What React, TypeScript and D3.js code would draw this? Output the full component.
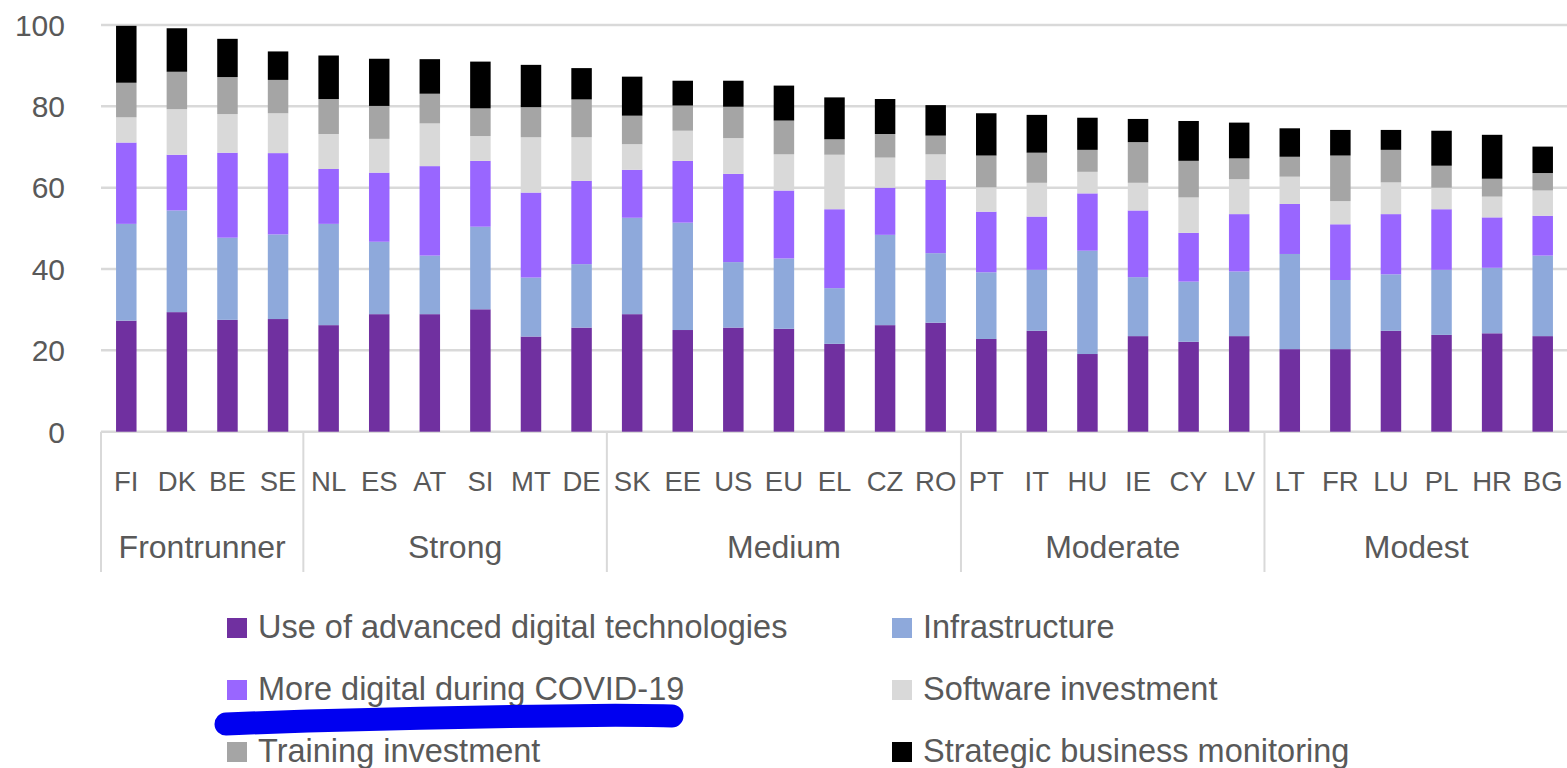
import React from "react";
import * as d3 from "d3";

const countries = ["FI","DK","BE","SE","NL","ES","AT","SI","MT","DE","SK","EE","US","EU","EL","CZ","RO","PT","IT","HU","IE","CY","LV","LT","FR","LU","PL","HR","BG"];
const groups = [
  { name: "Frontrunner", start: 0, end: 4 },
  { name: "Strong", start: 4, end: 10 },
  { name: "Medium", start: 10, end: 17 },
  { name: "Moderate", start: 17, end: 23 },
  { name: "Modest", start: 23, end: 29 },
];

const advancedTech = [27.3,29.4,27.5,27.7,26.2,28.9,28.9,30.1,23.4,25.6,28.9,25.0,25.6,25.3,21.6,26.2,26.8,22.8,24.8,19.1,23.5,22.1,23.5,20.3,20.3,24.8,23.8,24.2,23.5];
const infrastructure = [23.8,25.0,20.2,20.8,24.9,17.8,14.4,20.3,14.5,15.6,23.7,26.4,16.1,17.3,13.7,22.2,17.1,16.4,15.0,25.4,14.5,14.8,15.9,23.4,17.0,13.9,16.0,16.1,19.8];
const covidDigital = [20.0,13.7,20.9,20.0,13.5,17.0,22.0,16.2,20.9,20.5,11.8,15.2,21.7,16.7,19.4,11.6,18.0,14.9,13.1,14.1,16.4,12.0,14.1,12.3,13.7,14.8,14.9,12.4,9.8];
const softwareInv = [6.2,11.2,9.5,9.8,8.6,8.3,10.5,6.1,13.6,10.7,6.3,7.4,8.8,8.9,13.4,7.4,6.3,6.0,8.3,5.3,6.8,8.7,8.6,6.7,5.7,7.8,5.3,5.1,6.2];
const trainingInv = [8.5,9.2,9.1,8.2,8.6,8.1,7.3,6.8,7.4,9.3,7.0,6.2,7.7,8.3,3.8,5.8,4.6,7.8,7.4,5.4,10.0,9.0,5.1,4.9,11.2,8.0,5.4,4.4,4.3];
const strategicMon = [14.0,10.7,9.4,7.0,10.7,11.6,8.5,11.5,10.4,7.7,9.6,6.1,6.4,8.6,10.3,8.6,7.5,10.4,9.3,7.9,5.7,9.8,8.8,7.0,6.3,4.9,8.6,10.8,6.5];

const seriesNames = [
  "Use of advanced digital technologies",
  "Infrastructure",
  "More digital during COVID-19",
  "Software investment",
  "Training investment",
  "Strategic business monitoring",
];
const seriesColors = ["#7030A0", "#8EA9DB", "#9966FF", "#D9D9D9", "#A5A5A5", "#000000"];
const yTicks = [0, 20, 40, 60, 80, 100];

const W = 1567;
const H = 768;
const FONT = "'Liberation Sans', Arial, sans-serif";
const TXT = "#595959";

export default function App() {
  const x = d3.scaleBand<string>().domain(countries).range([101, 1568]).paddingInner(0.595).paddingOuter(0.2975);
  const y = d3.scaleLinear().domain([0, 100]).range([431.7, 25]);

  const keys = seriesNames;
  const rows = countries.map((c, i) => {
    const r: any = { country: c };
    r[keys[0]] = advancedTech[i];
    r[keys[1]] = infrastructure[i];
    r[keys[2]] = covidDigital[i];
    r[keys[3]] = softwareInv[i];
    r[keys[4]] = trainingInv[i];
    r[keys[5]] = strategicMon[i];
    return r;
  });
  const stacked = d3.stack<any>().keys(keys)(rows);

  const step = x.step();
  const x0 = x.range()[0];
  const edge = (k: number) => x0 + k * step;

  const legendCols = [227, 892];
  const legendRows = [618, 680, 742];

  const blue = d3.line<[number, number]>().curve(d3.curveBasis)([
    [226, 724], [300, 721], [420, 718], [540, 716], [620, 715], [672, 716],
  ]);

  return (
    <svg width={W} height={H} style={{ position: "absolute", left: 0, top: 0, background: "#fff" }} fontFamily={FONT}>
      {yTicks.map((t) => (
        <g key={t}>
          <line x1={101} x2={W} y1={y(t)} y2={y(t)} stroke="#D9D9D9" strokeWidth={2.5} />
          <text x={65} y={y(t)} dy="0.36em" textAnchor="end" fontSize={30} fill={TXT}>{t}</text>
        </g>
      ))}
      {stacked.map((s, si) => (
        <g key={s.key} fill={seriesColors[si]}>
          {s.map((d, i) => (
            <rect key={i} x={x(countries[i])} width={x.bandwidth()} y={y(d[1])} height={y(d[0]) - y(d[1])} />
          ))}
        </g>
      ))}
      {groups.map((g) => (
        <line key={g.name} x1={edge(g.start)} x2={edge(g.start)} y1={431.7} y2={572} stroke="#D9D9D9" strokeWidth={2} />
      ))}
      {countries.map((c) => (
        <text key={c} x={(x(c) as number) + x.bandwidth() / 2} y={491} textAnchor="middle" fontSize={27.5} fill={TXT}>{c}</text>
      ))}
      {groups.map((g) => (
        <text key={g.name} x={(edge(g.start) + edge(g.end)) / 2} y={558} textAnchor="middle" fontSize={32} fill={TXT}>{g.name}</text>
      ))}
      {seriesNames.map((n, i) => {
        const cx = legendCols[i % 2];
        const ry = legendRows[Math.floor(i / 2)];
        return (
          <g key={n}>
            <rect x={cx} y={ry} width={20} height={20} fill={seriesColors[i]} />
            <text x={cx + 31} y={ry + 20} fontSize={32.5} fill={TXT}>{n}</text>
          </g>
        );
      })}
      <path d={blue || ""} fill="none" stroke="#0000F0" strokeWidth={23} strokeLinecap="round" />
    </svg>
  );
}
